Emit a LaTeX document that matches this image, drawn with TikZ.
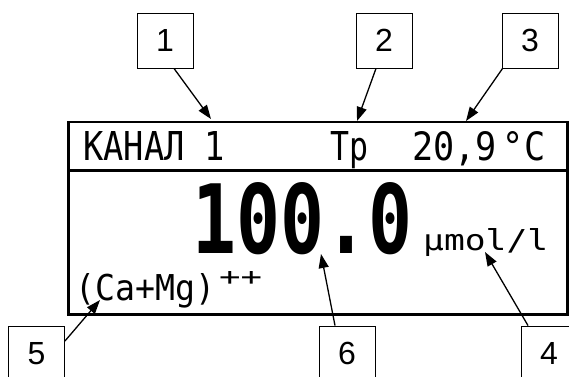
\documentclass[tikz,border=0pt]{standalone}
\usepackage{fontspec}
\usepackage{graphicx}
\setmainfont{Liberation Sans}
\newfontfamily\lcdfont{DejaVu Sans Mono}
\usetikzlibrary{arrows.meta}
\begin{document}
\begin{tikzpicture}[x=1pt,y=-1pt,
  numbox/.style={draw, line width=0.9pt, minimum width=56pt, minimum height=55pt, inner sep=0pt, font=\fontsize{32}{32}\selectfont},
  callout/.style={line width=1.3pt, -{Triangle[length=14pt,width=10pt]}},
  lcd/.style={inner sep=0pt, anchor=base west, font=\lcdfont}]
\useasboundingbox (0,0) rectangle (569,376);
% display
\node[draw, line width=2.8pt, minimum width=499pt, minimum height=192.5pt, inner sep=0pt] (disp) at (318,218.25) {};
\draw[line width=2.5pt] (disp.west |- 0,170.5) -- (disp.east |- 0,170.5);
% display texts
\node[lcd] (kanal) at (83,160) {\resizebox{142pt}{29pt}{КАНАЛ 1}};
\node[lcd] (tp) at (330,160) {\resizebox{38pt}{29pt}{Тр}};
\node[lcd] (temp) at (412,160) {\resizebox{133pt}{29pt}{20,9\,°C}};
\node[lcd] (value) at (192,253) {\resizebox{220pt}{71pt}{\bfseries 100.0}};
\node[lcd] (unit) at (423,250) {\resizebox{125pt}{22pt}{μmol/l}};
\node[lcd] (ion) at (75,300) {\resizebox{140pt}{27pt}{(Ca+Mg)}};
\node[lcd] (ionsup) at (219,285) {\resizebox{43pt}{14pt}{++}};
% numbered boxes
\node[numbox] (b1) at (165,40.5) {1};
\node[numbox] (b2) at (384,40.5) {2};
\node[numbox] (b3) at (530,40.5) {3};
\node[numbox] (b5) at (36.5,353.5) {5};
\node[numbox] (b6) at (347,353.5) {6};
\node[numbox] (b4) at (549,353.5) {4};
% targets
\coordinate (t1) at (211,119);
\coordinate (t2) at (357,121);
\coordinate (t3) at (466,121);
\coordinate (t5) at (100,300);
\coordinate (t6) at (321,254);
\coordinate (t4) at (485,252);
% callouts
\draw[callout] ([xshift=9pt]b1.south) -- (t1);
\draw[callout] ([xshift=-8pt]b2.south) -- (t2);
\draw[callout] ([xshift=1pt]b3.south west) -- (t3);
\draw[callout] ([yshift=12.5pt]b5.east) -- (t5);
\draw[callout] ([xshift=-12pt]b6.north) -- (t6);
\draw[callout] ([xshift=-21pt]b4.north) -- (t4);
\end{tikzpicture}
\end{document}
